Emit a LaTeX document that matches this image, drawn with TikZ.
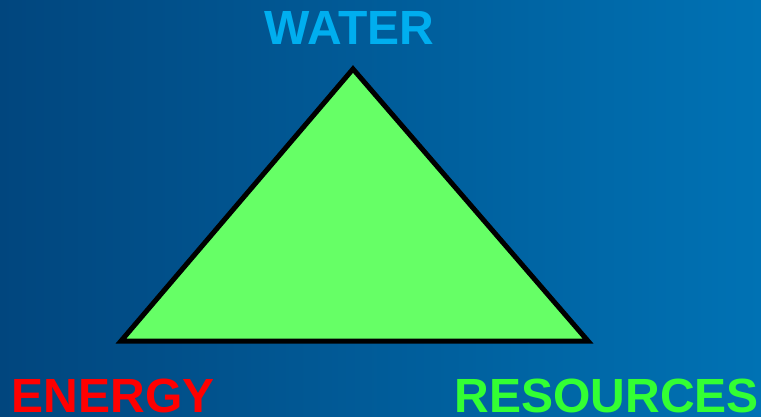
\documentclass[tikz,border=0pt]{standalone}
\usepackage{fontspec}
\setmainfont{Liberation Sans}
\definecolor{bgleft}{RGB}{1,70,126}
\definecolor{bgright}{RGB}{0,114,180}
\definecolor{waterc}{RGB}{0,174,239}
\definecolor{energyc}{RGB}{255,0,0}
\definecolor{resc}{RGB}{51,255,51}
\definecolor{trifill}{RGB}{102,255,102}
\tikzset{
  lbl/.style={inner sep=0pt, font=\fontsize{48}{48}\selectfont\bfseries},
}
\begin{document}
\begin{tikzpicture}[x=1pt,y=-1pt]
\useasboundingbox (0,0) rectangle (761,417);
\shade[left color=bgleft, right color=bgright] (0,0) rectangle (761,417);
\coordinate (top) at (353,69);
\coordinate (bl) at (121,341);
\coordinate (br) at (588,341);
\filldraw[fill=trifill, draw=black, line width=5pt, line join=miter] (top) -- (br) -- (bl) -- cycle;
\node[lbl, text=waterc, anchor=base] (water) at (349.5,45) {WATER};
\node[lbl, text=energyc, anchor=base west] (energy) at (11.5,412) {ENERGY};
\node[lbl, text=resc, anchor=base west] (res) at (454.5,412) {RESOURCES};
\end{tikzpicture}
\end{document}
